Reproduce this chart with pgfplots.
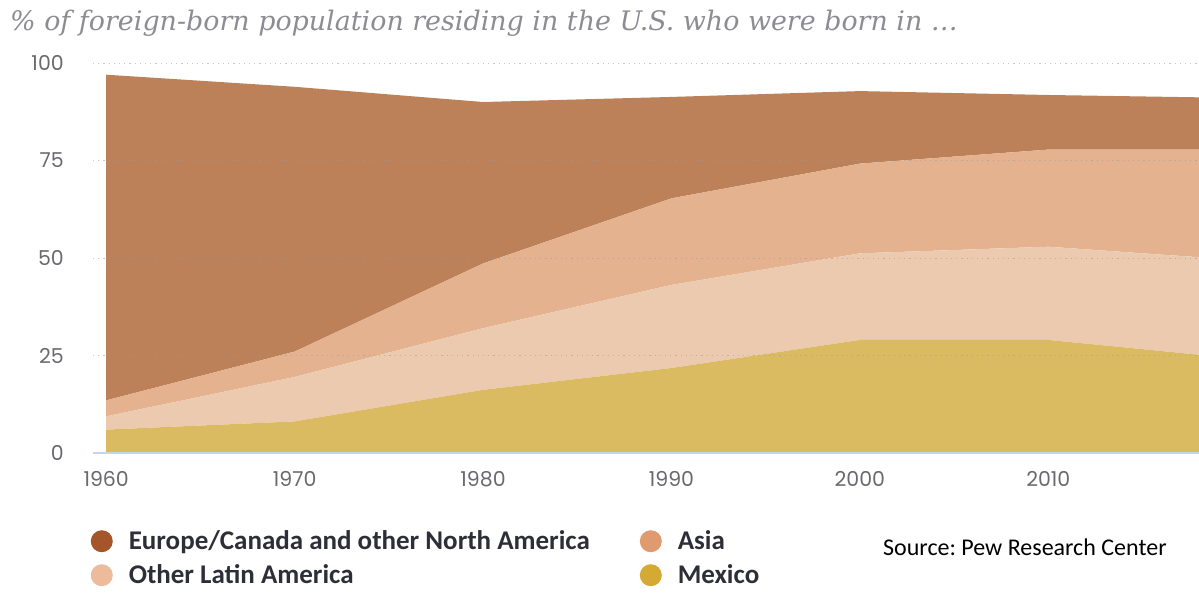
\documentclass[border=0pt]{standalone}
\usepackage{pgfplots}
\pgfplotsset{compat=1.18}
\usepackage{fontspec}
\setmainfont{Liberation Sans}
\newfontfamily\titlefont{DejaVu Serif}
\newfontfamily\tickfont{Poppins}
\newfontfamily\legfont{Carlito}
\definecolor{eurA}{RGB}{188,129,89}
\definecolor{asiaA}{RGB}{228,178,142}
\definecolor{olaA}{RGB}{236,202,176}
\definecolor{mexA}{RGB}{219,187,98}
\definecolor{eurL}{RGB}{165,85,42}
\definecolor{asiaL}{RGB}{224,154,112}
\definecolor{olaL}{RGB}{235,187,156}
\definecolor{mexL}{RGB}{212,170,53}
\definecolor{legtext}{RGB}{46,46,56}
\definecolor{tickgray}{RGB}{105,105,112}
\definecolor{titlegray}{RGB}{140,140,146}
\definecolor{xaxisc}{RGB}{198,212,232}
\frenchspacing
\begin{document}
\frenchspacing
\begin{tikzpicture}[x=1pt,y=1pt]
\useasboundingbox (0,0) rectangle (1199,-592);
\node[anchor=base west, inner sep=0pt, text=titlegray, font=\titlefont\itshape\fontsize{26.9}{30}\selectfont] at (10,-30) {\% of foreign-born population residing in the U.S. who were born in \ldots};
\begin{axis}[
  at={(93pt,-453pt)}, anchor=south west,
  scale only axis, width=1106pt, height=390pt,
  xmin=1959.3, xmax=2018, ymin=0, ymax=100,
  stack plots=y,
  axis on top,
  axis x line*=bottom, axis y line*=left,
  x axis line style={draw=xaxisc, line width=1.5pt, -},
  y axis line style={draw=none},
  major tick length=0pt,
  xtick={1960,1970,1980,1990,2000,2010},
  xticklabels={1960,1970,1980,1990,2000,2010},
  ytick={0,25,50,75,100},
  yticklabels={0,25,50,75,100},
  ymajorgrids,
  grid style={dash pattern=on 1.2pt off 4pt, black!40, line width=1pt, opacity=0.55},
  tick label style={font=\tickfont\fontsize{20.5}{24}\selectfont, text=tickgray},
  xticklabel style={inner sep=0pt, anchor=north, yshift=-18pt},
  yticklabel style={inner sep=0pt, anchor=east, xshift=-29pt},
  reverse legend,
  legend columns=2,
  legend style={at={(-0.002,-0.198)}, anchor=north west, draw=none, fill=none,
    inner sep=0pt, outer sep=0pt,
    font=\legfont\bfseries\fontsize{27}{32}\selectfont, text=legtext,
    /tikz/every odd column/.style={column sep=16pt},
    /tikz/every even column/.style={column sep=50pt},
    row sep=12pt, nodes={inner sep=0pt}, cells={anchor=west}},
]
\addplot[fill=mexA, draw=none, legend image code/.code={\fill[mexL] (11pt,0pt) circle (11pt);}]
  coordinates {(1960,6.0) (1970,8.1) (1980,16.2) (1990,21.8) (2000,29.0) (2010,29.0) (2018,25.2)} \closedcycle;
\addplot[fill=olaA, draw=none, legend image code/.code={\fill[olaL] (11pt,0pt) circle (11pt);}]
  coordinates {(1960,3.4) (1970,11.4) (1980,15.8) (1990,21.3) (2000,22.2) (2010,23.9) (2018,25.0)} \closedcycle;
\addplot[fill=asiaA, draw=none, legend image code/.code={\fill[asiaL] (11pt,0pt) circle (11pt);}]
  coordinates {(1960,4.1) (1970,6.5) (1980,16.6) (1990,22.2) (2000,23.0) (2010,24.9) (2018,27.6)} \closedcycle;
\addplot[fill=eurA, draw=none, legend image code/.code={\fill[eurL] (11pt,0pt) circle (11pt);}]
  coordinates {(1960,83.5) (1970,67.9) (1980,41.4) (1990,26.0) (2000,18.6) (2010,14.0) (2018,13.4)} \closedcycle;
\legend{Mexico, Other Latin America, Asia, Europe/Canada and other North America}
\end{axis}
\node[anchor=base west, inner sep=0pt, font=\legfont\fontsize{24}{28}\selectfont, text=black] at (883,-555) {Source: Pew Research Center};
\end{tikzpicture}
\end{document}
